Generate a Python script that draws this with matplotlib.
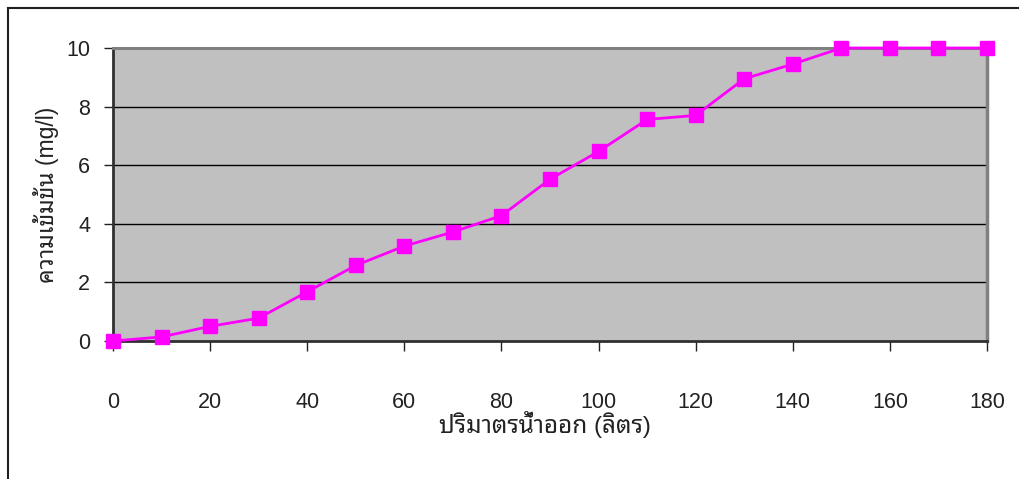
import matplotlib
matplotlib.use("Agg")
import matplotlib.pyplot as plt
from matplotlib.lines import Line2D

# outflow volume (litres) and concentration (mg/l)
volume = [0, 10, 20, 30, 40, 50, 60, 70, 80, 90, 100, 110, 120, 130, 140, 150, 160, 170, 180]
conc = [0, 0.14, 0.5, 0.78, 1.68, 2.58, 3.24, 3.72, 4.28, 5.52, 6.47, 7.56, 7.7, 8.95, 9.45,
        10, 10, 10, 10]

xticks = list(range(0, 181, 20))
yticks = [0, 2, 4, 6, 8, 10]

xlabel = "ปริมาตรน้ำออก (ลิตร)"
ylabel = "ความเข้มข้น (mg/l)"

plt.rcParams["font.family"] = ["Liberation Sans", "Noto Sans Thai Looped", "DejaVu Sans"]

fig = plt.figure(figsize=(10.19, 4.79), dpi=100)
ax = fig.add_axes([0.1109, 0.2881, 0.8577, 0.6117])
ax.set_facecolor("#c0c0c0")

for y in yticks[1:-1]:
    ax.axhline(y, color="black", lw=1, zorder=1)

ax.plot(volume, conc, color="#ff00ff", lw=2, marker="s", markersize=10,
        markerfacecolor="#ff00ff", markeredgecolor="#ff00ff", clip_on=False, zorder=3)

ax.set_xlim(0, 180)
ax.set_ylim(0, 10)
ax.set_xticks(xticks)
ax.set_yticks(yticks)
ax.tick_params(axis="x", direction="out", length=7.5, width=1, color="#202020",
               pad=29, labelsize=15.5, labelcolor="#222222")
ax.tick_params(axis="y", direction="out", length=6.5, width=1, color="#202020",
               pad=10, labelsize=15.5, labelcolor="#222222")

ax.spines["left"].set_color("#303030")
ax.spines["left"].set_linewidth(2)
ax.spines["bottom"].set_color("#303030")
ax.spines["bottom"].set_linewidth(2)
ax.spines["top"].set_color("#808080")
ax.spines["top"].set_linewidth(2.2)
ax.spines["right"].set_color("#808080")
ax.spines["right"].set_linewidth(2.5)

ax.set_xlabel(xlabel, fontsize=17.5, color="#222222", va="top")
ax.xaxis.set_label_coords(0.494, -0.238)
ax.set_ylabel(ylabel, fontsize=16.5, color="#222222", va="bottom")
ax.yaxis.set_label_coords(-0.062, 0.5)

# frame round the chart area (top and left edges)
fig.add_artist(Line2D([8 / 1019, 1.0], [1 - 7.5 / 479, 1 - 7.5 / 479], color="#202020", lw=1.5))
fig.add_artist(Line2D([8 / 1019, 8 / 1019], [0.0, 1 - 7.5 / 479], color="#202020", lw=1.5))

fig.savefig("out.png", dpi=100, facecolor="white")
